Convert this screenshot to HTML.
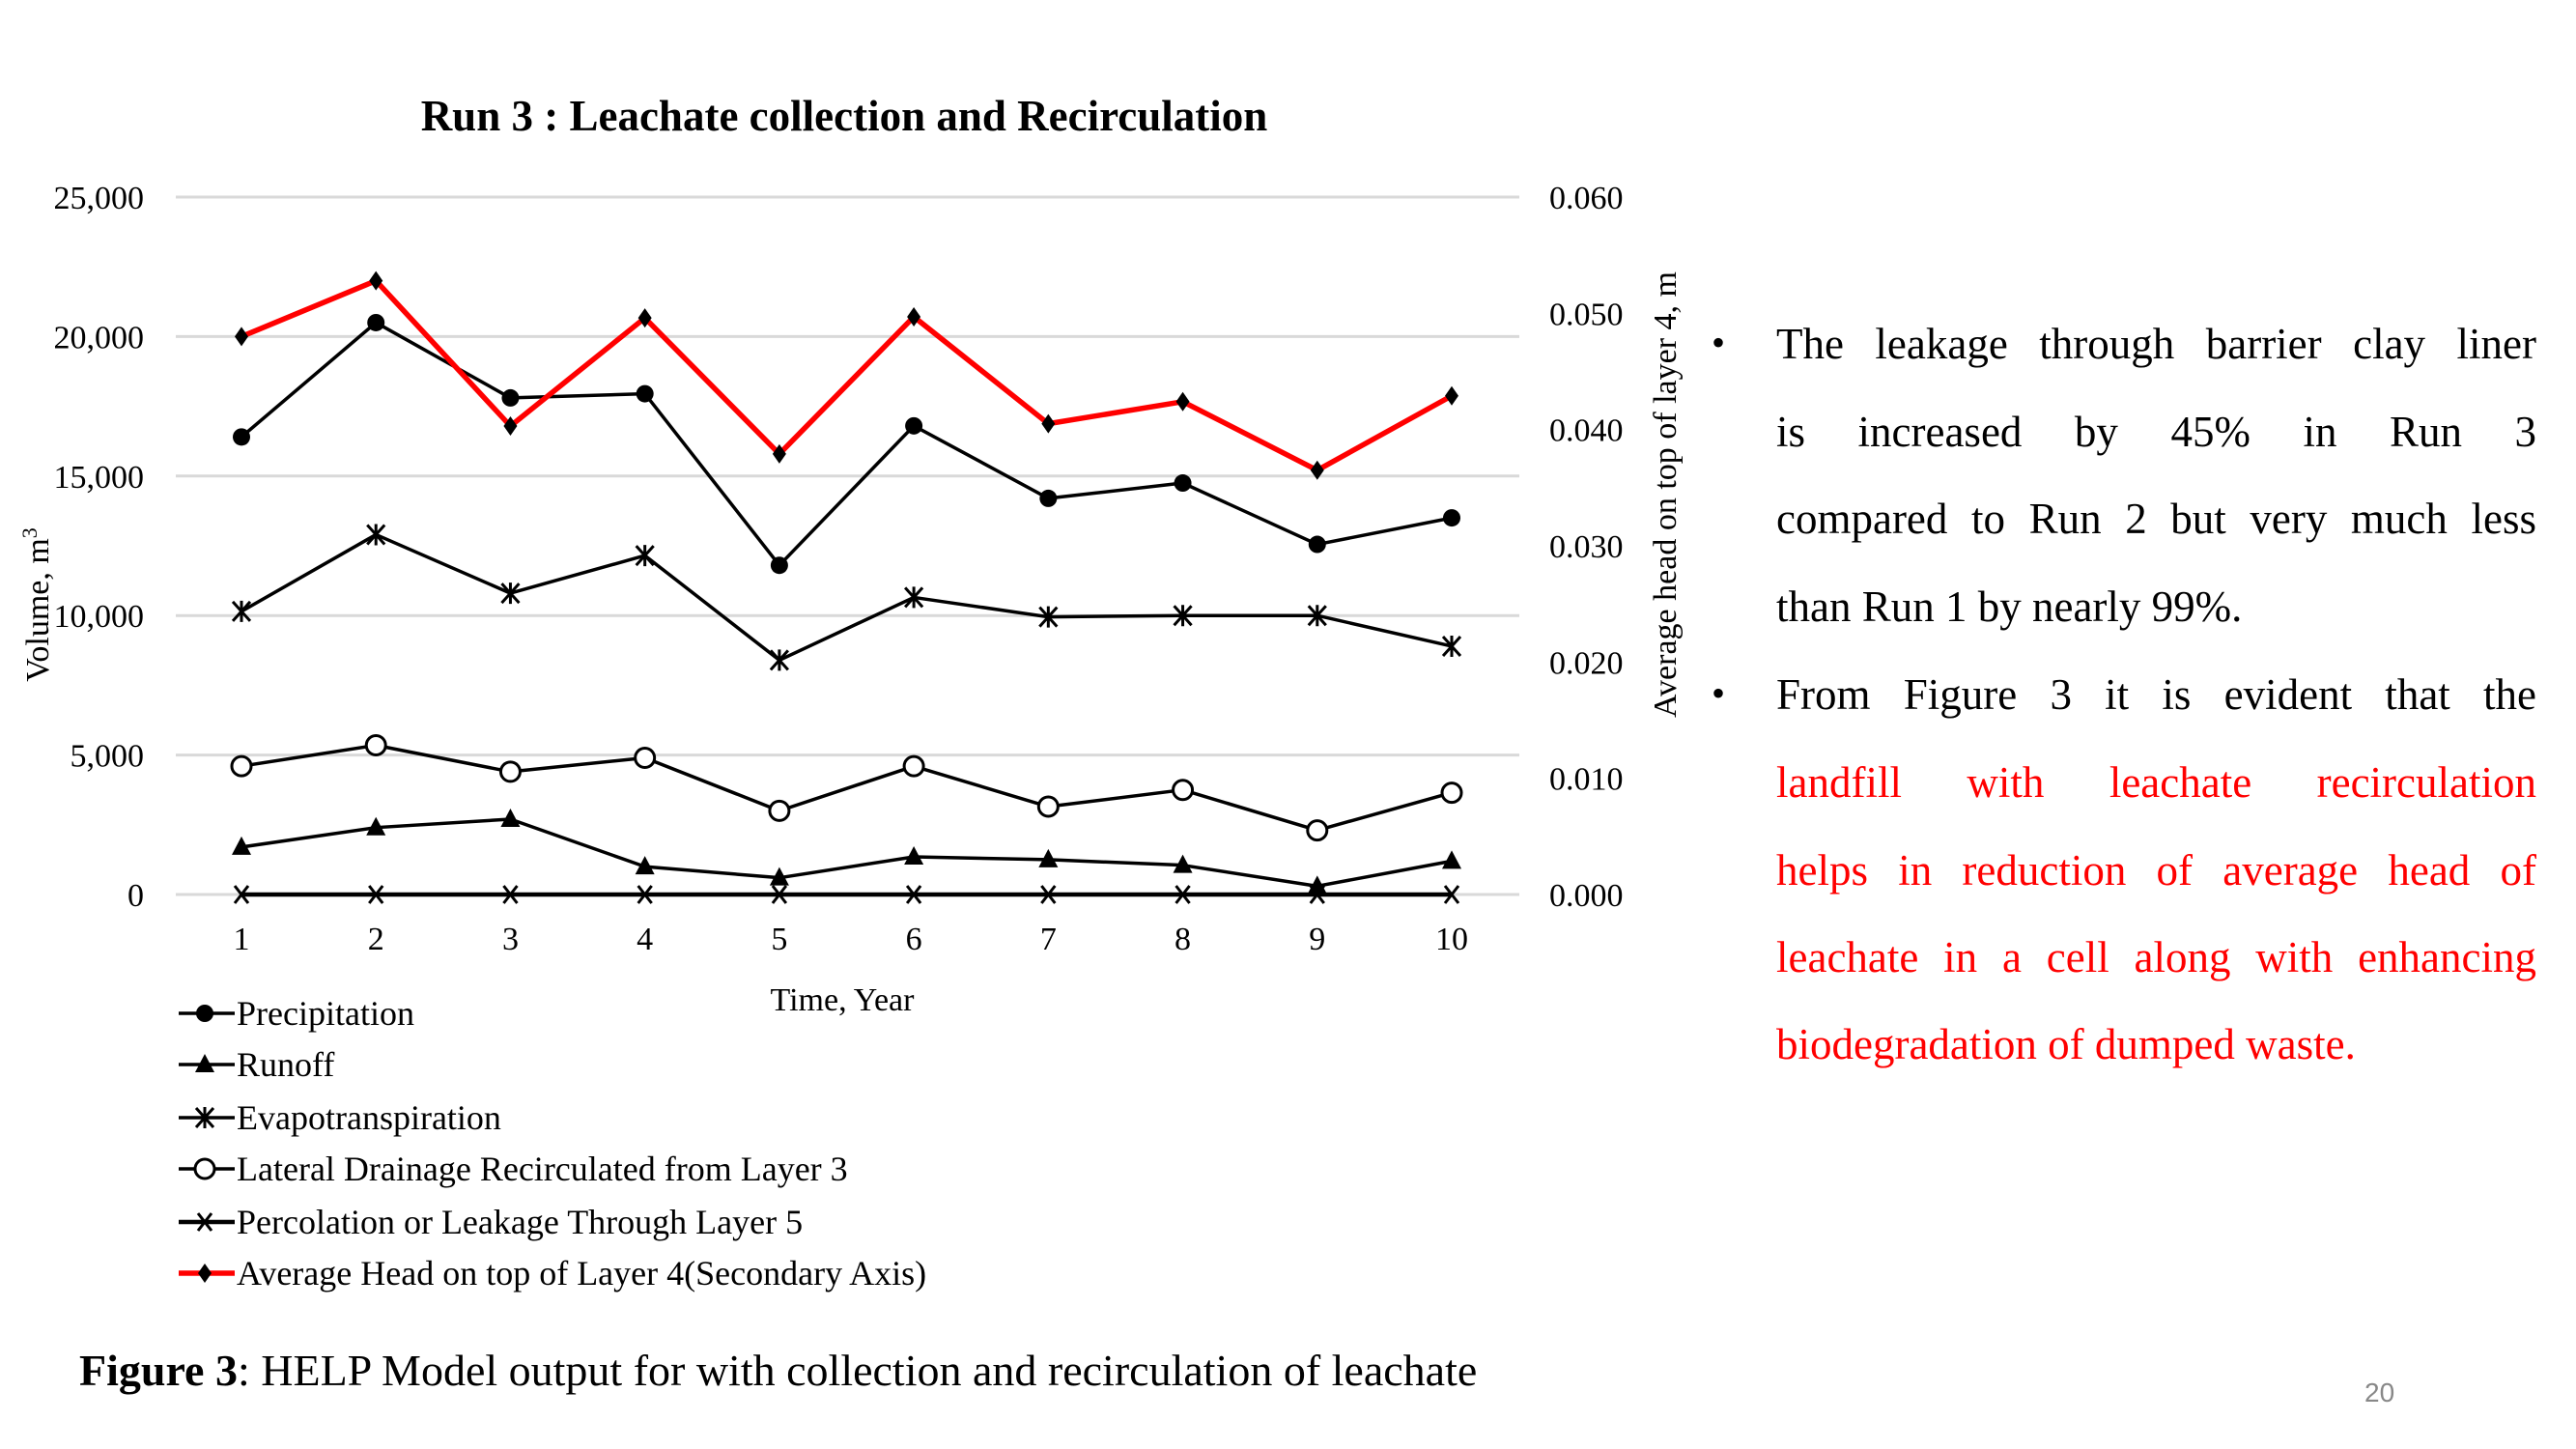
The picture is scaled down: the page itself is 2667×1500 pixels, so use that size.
<!DOCTYPE html>
<html><head><meta charset="utf-8"><style>
body{margin:0;background:#fff;}
#wrap{position:relative;width:2667px;height:1500px;overflow:hidden;font-family:"Liberation Serif",serif;}
.ln{position:absolute;left:1839px;width:787px;font-size:45px;line-height:45px;text-align:justify;text-align-last:justify;white-space:nowrap;}
.ln.last{text-align-last:left;}
.bul{position:absolute;left:1772px;font-size:40px;}
.red{color:#ff0000;}
</style></head><body>
<div id="wrap">
<svg id="chart" width="1800" height="1400" style="position:absolute;left:0;top:0" font-family="Liberation Serif, serif"></svg>
<div style="position:absolute;left:82px;top:1392px;font-size:46px;white-space:nowrap"><b>Figure 3</b>: HELP Model output for with collection and recirculation of leachate</div>
<div style="position:absolute;left:2448px;top:1426px;font-size:28px;color:#888;font-family:'Liberation Sans',sans-serif">20</div>
<div>
<div class="bul" style="top:331px">•</div>
<div class="ln" style="top:334px">The leakage through barrier clay liner</div>
<div class="ln" style="top:425px">is increased by 45% in Run 3</div>
<div class="ln" style="top:515px">compared to Run 2 but very much less</div>
<div class="ln last" style="top:606px">than Run 1 by nearly 99%.</div>
<div class="bul" style="top:694px">•</div>
<div class="ln" style="top:697px">From Figure 3 it is evident that the</div>
<div class="ln red" style="top:788px">landfill with leachate recirculation</div>
<div class="ln red" style="top:879px">helps in reduction of average head of</div>
<div class="ln red" style="top:969px">leachate in a cell along with enhancing</div>
<div class="ln red last" style="top:1059px">biodegradation of dumped waste.</div>
</div>
</div>
<script>
const years=[1,2,3,4,5,6,7,8,9,10];
const precipitation=[16400,20500,17800,17950,11800,16800,14200,14750,12550,13500];
const runoff=[1700,2400,2700,1000,600,1350,1250,1050,300,1200];
const evapotranspiration=[10150,12900,10800,12150,8400,10650,9950,10000,10000,8900];
const lateralDrainage=[4600,5350,4400,4900,3000,4600,3150,3750,2300,3650];
const percolation=[0,0,0,0,0,0,0,0,0,0];
const averageHead=[0.048,0.0528,0.0403,0.0496,0.0379,0.0497,0.0405,0.0424,0.0365,0.0429];
const leftTicks=[0,5000,10000,15000,20000,25000];
const leftTickLabels=["0","5,000","10,000","15,000","20,000","25,000"];
const rightTicks=[0,0.01,0.02,0.03,0.04,0.05,0.06];
const rightTickLabels=["0.000","0.010","0.020","0.030","0.040","0.050","0.060"];

const NS="http://www.w3.org/2000/svg";
const svg=document.getElementById('chart');
const X0=250,X1=1503,Y0=926,Y1=204,PL=182,PR=1573;
const x=i=>X0+(i)*(X1-X0)/(years.length-1);
const yL=v=>Y0-(v/25000)*(Y0-Y1);
const yR=v=>Y0-(v/0.06)*(Y0-Y1);
function mk(tag,attrs,parent){const e=document.createElementNS(NS,tag);for(const k in attrs)e.setAttribute(k,attrs[k]);(parent||svg).appendChild(e);return e;}

const title=mk('text',{x:874,y:135,'text-anchor':'middle','font-size':45,'font-weight':'bold'});


title.textContent='Run 3 : Leachate collection and Recirculation';

leftTicks.forEach((t,i)=>{
  const g=mk('line',{x1:PL,x2:PR,y1:yL(t),y2:yL(t),stroke:'#d9d9d9','stroke-width':3});
  
  
  const l=mk('text',{x:149,y:yL(t)+12,'text-anchor':'end','font-size':34});
  
  
  l.textContent=leftTickLabels[i];
});
rightTicks.forEach((t,i)=>{
  const l=mk('text',{x:1604,y:yR(t)+12,'font-size':34});
  
  
  l.textContent=rightTickLabels[i];
});
years.forEach((yv,i)=>{
  const l=mk('text',{x:x(i),y:983,'text-anchor':'middle','font-size':34});
  
  
  l.textContent=yv;
});
const xt=mk('text',{x:872,y:1046,'text-anchor':'middle','font-size':34});


xt.textContent='Time, Year';
const ylt=mk('text',{x:0,y:0,'text-anchor':'middle','font-size':34,transform:'translate(50,626) rotate(-90)'});


ylt.innerHTML='Volume, m<tspan dy="-12" font-size="22">3</tspan>';
const yrt=mk('text',{x:0,y:0,'text-anchor':'middle','font-size':34,transform:'translate(1735,512) rotate(-90)'});


yrt.textContent='Average head on top of layer 4, m';

function marker(type,cx,cy,parent,color){
  const p=parent||svg;let e;
  if(type==='circle')e=mk('circle',{cx,cy,r:9,fill:'#000'},p);
  else if(type==='ocircle')e=mk('circle',{cx,cy,r:10,fill:'#fff',stroke:'#000','stroke-width':3},p);
  else if(type==='tri')e=mk('polygon',{points:`${cx},${cy-11} ${cx-10},${cy+8} ${cx+10},${cy+8}`,fill:'#000'},p);
  else if(type==='diamond')e=mk('polygon',{points:`${cx},${cy-10} ${cx+7},${cy} ${cx},${cy+10} ${cx-7},${cy}`,fill:'#000'},p);
  else if(type==='star'){e=mk('path',{d:`M${cx-9},${cy-10}L${cx+9},${cy+10}M${cx+9},${cy-10}L${cx-9},${cy+10}M${cx},${cy-11}L${cx},${cy+11}`,stroke:'#000','stroke-width':3,fill:'none'},p);}
  else if(type==='x'){e=mk('path',{d:`M${cx-7},${cy-9}L${cx+7},${cy+9}M${cx+7},${cy-9}L${cx-7},${cy+9}`,stroke:'#000','stroke-width':3,fill:'none'},p);}
  
  
}
const series=[
 {name:'Precipitation',data:precipitation,m:'circle',c:'#000',w:3.5,y:yL},
 {name:'Runoff',data:runoff,m:'tri',c:'#000',w:3.5,y:yL},
 {name:'Evapotranspiration',data:evapotranspiration,m:'star',c:'#000',w:3.5,y:yL},
 {name:'Lateral Drainage Recirculated from Layer 3',data:lateralDrainage,m:'ocircle',c:'#000',w:3.5,y:yL},
 {name:'Percolation or Leakage Through Layer 5',data:percolation,m:'x',c:'#000',w:4.5,y:yL},
 {name:'Average Head on top of Layer 4(Secondary Axis)',data:averageHead,m:'diamond',c:'#ff0000',w:5.5,y:yR}
];
const legY=[1049,1102,1157,1210,1265,1318];
series.forEach((s,si)=>{
  const g=mk('g',{});
  
  
  const pl=mk('polyline',{points:s.data.map((v,i)=>x(i)+','+s.y(v)).join(' '),fill:'none',stroke:s.c,'stroke-width':s.w,'stroke-linejoin':'round'},g);
  
  
  s.data.forEach((v,i)=>marker(s.m,x(i),s.y(v),g));
  const lg=mk('g',{});
  
  
  const ly=legY[si];
  const ll=mk('line',{x1:185,x2:243,y1:ly,y2:ly,stroke:s.c,'stroke-width':s.w},lg);
  
  
  marker(s.m,212,ly,lg);
  const lt=mk('text',{x:245,y:ly+12,'font-size':36},lg);
  
  
  lt.textContent=s.name;
});
</script>
</body></html>
